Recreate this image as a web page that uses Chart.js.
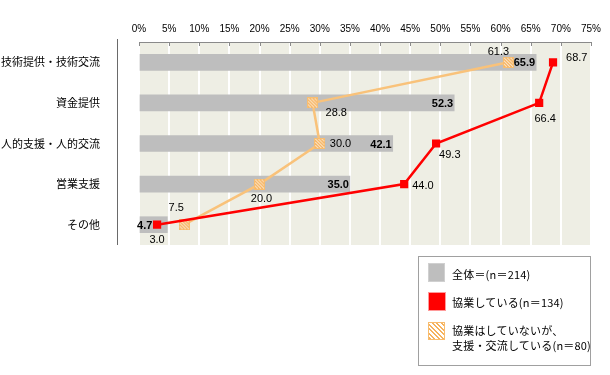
<!DOCTYPE html>
<html><head><meta charset="utf-8">
<script src="https://cdn.jsdelivr.net/npm/chart.js@4/dist/chart.umd.min.js"></script>
<style>
html,body{margin:0;padding:0;background:#fff;}
#wrap{position:relative;width:610px;height:375px;}
#c{position:absolute;left:0;top:0;}
#legend{position:absolute;left:418px;top:256px;width:173px;height:110px;box-sizing:border-box;border:1px solid #a0a0a0;background:#fff;font-family:"Noto Sans CJK JP","Noto Sans",sans-serif;font-size:11px;color:#000;}
#legend .sw{position:absolute;left:9px;width:17px;height:18px;box-sizing:border-box;}
#legend .tx{position:absolute;left:33px;line-height:15px;white-space:nowrap;letter-spacing:0.2px;}
</style>
</head><body>
<div id="wrap">
<canvas id="c" width="610" height="375"></canvas>
<div id="legend"></div>
</div>
<script>
// ---- data ----
const categories = ['技術提供・技術交流', '資金提供', '人的支援・人的交流', '営業支援', 'その他'];
const overall = [65.9, 52.3, 42.1, 35.0, 4.7];          // 全体 (bars)
const cooperating = [68.7, 66.4, 49.3, 44.0, 3.0];      // 協業している
const supportOnly = [61.3, 28.8, 30.0, 20.0, 7.5];      // 協業はしていないが、支援・交流している
const seriesNames = ['全体＝(n＝214)', '協業している(n＝134)', '協業はしていないが、\n支援・交流している(n＝80)'];
const xTickStep = 5, xMin = 0, xMax = 75;

// ---- styles ----
const COL_BAR = '#bebebe', COL_RED = '#ff0000', COL_ORANGE = '#f9c27a';
const labelStyle = {
  // per-point label offsets [dx, dy, align]
  red: [[13, -4, 'left'], [6, 16, 'center'], [3, 11, 'left'], [8, 2, 'left'], [0, 15, 'center']],
  orange: [[-10, -10, 'center'], [13, 10, 'left'], [10, 0, 'left'], [2, 15, 'center'], [-8, -17, 'center']],
  barDx: [-1, -1, -1, -1, -15]
};

function hatch(size, stripe) {
  const c = document.createElement('canvas');
  c.width = c.height = size;
  const g = c.getContext('2d');
  g.fillStyle = '#fff'; g.fillRect(0, 0, size, size);
  g.strokeStyle = stripe; g.lineWidth = 1.6;
  for (let k = -size; k < size * 2; k += 3.2) {
    g.beginPath(); g.moveTo(k, 0); g.lineTo(k + size, size); g.stroke();
  }
  g.strokeStyle = '#f8bd6f'; g.lineWidth = 1;
  g.strokeRect(0.5, 0.5, size - 1, size - 1);
  return c;
}
const hatchImg = hatch(11, '#f6b25d');

const framePlugin = {
  id: 'frame',
  beforeDraw(chart) {
    const { ctx, chartArea: a } = chart;
    ctx.save();
    ctx.fillStyle = '#eeeee4';
    ctx.fillRect(a.left, a.top, a.right - a.left, a.bottom - a.top);
    ctx.restore();
  },
  beforeDatasetsDraw(chart) {
    const { ctx, chartArea: a, scales } = chart;
    const xs = scales.x;
    ctx.save();
    ctx.strokeStyle = '#8a8a8a'; ctx.lineWidth = 1;
    ctx.beginPath();
    ctx.moveTo(a.left, a.top + 0.5); ctx.lineTo(a.right + 1, a.top + 0.5);
    for (let v = xMin; v <= xMax; v += xTickStep) {
      const px = Math.round(xs.getPixelForValue(v)) + 0.5;
      ctx.moveTo(px, a.top); ctx.lineTo(px, a.top + 4);
    }
    ctx.stroke();
    ctx.strokeStyle = '#6a6a6a';
    ctx.beginPath();
    ctx.moveTo(a.left - 21.5, a.top - 3); ctx.lineTo(a.left - 21.5, a.bottom);
    ctx.stroke();
    ctx.restore();
  }
};

const labelPlugin = {
  id: 'vlabels',
  afterDatasetsDraw(chart) {
    const ctx = chart.ctx;
    ctx.save();
    ctx.textBaseline = 'middle';
    chart.data.datasets.forEach((ds, di) => {
      const meta = chart.getDatasetMeta(di);
      meta.data.forEach((el, i) => {
        const v = ds.data[i].toFixed(1);
        if (ds.type === 'bar') {
          ctx.font = 'bold 11px "Liberation Sans", Arial, sans-serif';
          ctx.fillStyle = '#000';
          ctx.textAlign = 'right';
          ctx.fillText(v, el.x + labelStyle.barDx[i], el.y + 1);
        } else {
          const o = labelStyle[ds.key][i];
          ctx.font = '11px "Liberation Sans", Arial, sans-serif';
          ctx.fillStyle = '#000';
          ctx.textAlign = o[2];
          ctx.fillText(v, el.x + o[0], el.y + o[1]);
        }
      });
    });
    ctx.restore();
  }
};

new Chart(document.getElementById('c'), {
  data: {
    labels: categories,
    datasets: [
      { type: 'line', key: 'red', label: seriesNames[1], data: cooperating, indexAxis: 'y',
        borderColor: COL_RED, backgroundColor: COL_RED, borderWidth: 2.5,
        pointStyle: 'rect', pointRadius: 5.8, pointBorderWidth: 0, order: 1 },
      { type: 'line', key: 'orange', label: seriesNames[2], data: supportOnly, indexAxis: 'y',
        borderColor: COL_ORANGE, backgroundColor: COL_ORANGE, borderWidth: 2.5,
        pointStyle: hatchImg, pointRadius: 5.5, order: 2 },
      { type: 'bar', key: 'bar', label: seriesNames[0], data: overall,
        backgroundColor: COL_BAR, barThickness: 16, order: 3 }
    ]
  },
  options: {
    indexAxis: 'y',
    responsive: false,
    animation: false,
    events: [],
    layout: { padding: { left: 0, right: 19, top: 0, bottom: 130 } },
    plugins: { legend: { display: false }, tooltip: { enabled: false } },
    scales: {
      x: {
        type: 'linear', position: 'top', min: xMin, max: xMax,
        ticks: { stepSize: xTickStep, callback: v => v + '%', color: '#000', padding: 7,
                 maxRotation: 0, autoSkip: false, font: { family: '"Liberation Sans", Arial, sans-serif', size: 10 } },
        grid: { color: '#ffffff', lineWidth: 2, drawTicks: false },
        border: { display: false },
        afterFit(s) { s.height = 42; }
      },
      y: {
        type: 'category', offset: true,
        ticks: { color: '#000', padding: 31, font: { family: '"Noto Sans CJK JP", sans-serif', size: 11 } },
        grid: { display: false, offset: true },
        border: { display: false },
        afterFit(s) { s.width = 139; }
      }
    }
  },
  plugins: [framePlugin, labelPlugin]
});

// ---- HTML legend (real text) ----
const lg = document.getElementById('legend');
const swatches = [
  { top: 6, css: 'background:' + COL_BAR + ';border:1px solid #d0d0d0;height:19px;' },
  { top: 35, css: 'background:' + COL_RED + ';border:1px solid #ff9a9a;height:19px;width:18px;' },
  { top: 65, css: 'background:repeating-linear-gradient(45deg,#f6b25d 0 1.6px,#fff 1.6px 3.2px);border:1px solid #f8bd6f;' }
];
const textTops = [10, 38, 66];
seriesNames.forEach((name, i) => {
  const s = document.createElement('div');
  s.className = 'sw'; s.style.cssText = 'top:' + swatches[i].top + 'px;' + swatches[i].css;
  lg.appendChild(s);
  const t = document.createElement('div');
  t.className = 'tx'; t.style.top = textTops[i] + 'px';
  t.innerHTML = name.split('\n').map(x => x.replace(/&/g,'&amp;').replace(/</g,'&lt;')).join('<br>');
  lg.appendChild(t);
});
</script>
</body></html>
